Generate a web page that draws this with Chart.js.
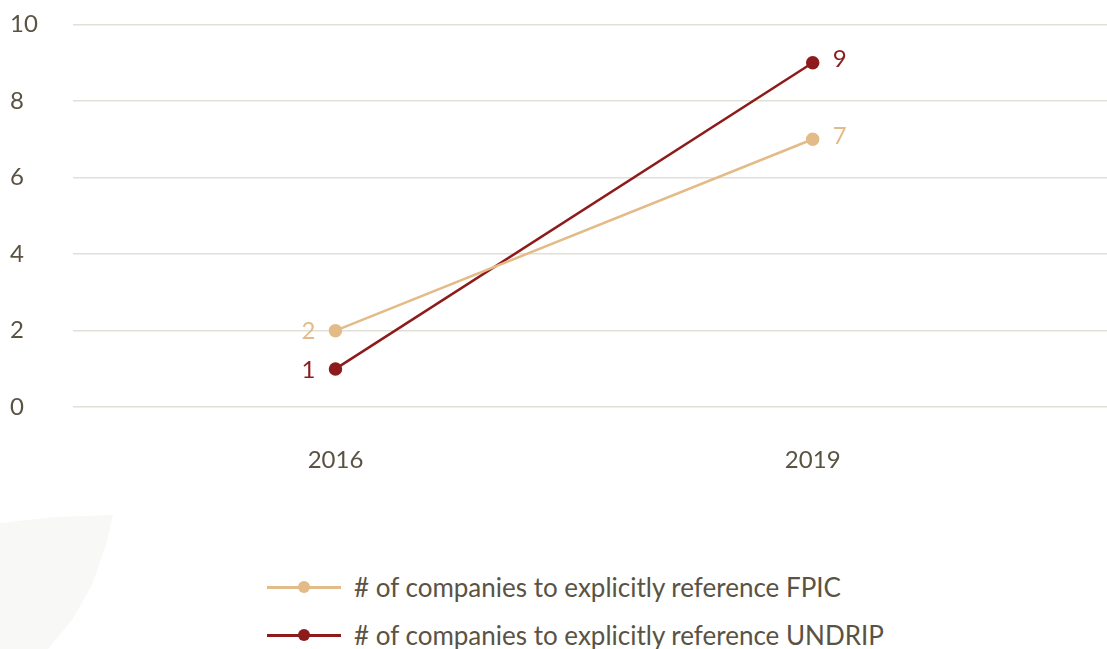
<!DOCTYPE html>
<html lang="en">
<head>
  <meta charset="UTF-8">
  <script src="https://cdn.jsdelivr.net/npm/chart.js"></script>
  <title>FPIC / UNDRIP</title>
  <style>
    body{
      margin: 0;
      background: #fff;
      font-family: Lato, "Open Sans", sans-serif;
    }
    #main{
      position: relative;
      width: 1107px;
      height: 649px;
      overflow: hidden;
    }
    #blob{
      position: absolute;
      left: 0; top: 0;
      width: 1107px; height: 649px;
      background: #f8f8f6;
      clip-path: polygon(0 523px, 55px 517px, 113px 515px, 106px 545px, 92px 585px, 72px 620px, 48px 649px, 0 649px);
    }
    #wrap{
      position: absolute;
      left: 0;
      top: 0;
      width: 1115px;
      height: 518px;
    }
    #legend{
      position: absolute;
      left: 267px;
      top: 569px;
      color: #5a5343;
      font-size: 26px;
    }
    .item{
      display: flex;
      align-items: center;
      height: 36px;
      margin-bottom: 12px;
    }
    .mark{
      position: relative;
      width: 74px;
      height: 12px;
      margin-right: 13px;
    }
    .mark .ln{
      position: absolute;
      left: 0; right: 0; top: 5px;
      height: 2.5px;
    }
    .mark .dt{
      position: absolute;
      left: 31px; top: 0;
      width: 12px; height: 12px;
      border-radius: 50%;
    }
  </style>
</head>
<body>
  <div id="main">
    <div id="blob"></div>
    <div id="wrap">
      <canvas id="myChart"></canvas>
    </div>
    <div id="legend"></div>
  </div>

  <script>
    // data
    var years = [2016, 2019];
    var fpic = [2, 7];
    var undrip = [1, 9];
    var yTicks = [0, 2, 4, 6, 8, 10];
    var seriesNames = ['# of companies to explicitly reference FPIC', '# of companies to explicitly reference UNDRIP'];
    var colors = ['#e3bb88', '#8e1b1b'];

    var textColor = '#5a5343';

    function pts(vals){
      return years.map(function(y, i){ return {x: y, y: vals[i]}; });
    }

    // value labels left of first point, right of last point
    var endLabels = {
      id: 'endLabels',
      afterDatasetsDraw: function(chart){
        var c = chart.ctx;
        c.save();
        c.font = '24px Lato';
        c.textBaseline = 'middle';
        chart.data.datasets.forEach(function(ds, i){
          var meta = chart.getDatasetMeta(i);
          var first = meta.data[0], last = meta.data[meta.data.length - 1];
          c.fillStyle = ds.borderColor;
          c.textAlign = 'right';
          c.fillText(ds.data[0].y, first.x - 20, first.y + 1);
          c.textAlign = 'left';
          c.fillText(ds.data[ds.data.length - 1].y, last.x + 20, last.y - 3);
        });
        c.restore();
      }
    };

    new Chart(document.getElementById('myChart'), {
      type: 'line',
      data: {
        datasets: [{
          label: seriesNames[0],
          data: pts(fpic),
          borderColor: colors[0],
          backgroundColor: colors[0],
          borderWidth: 2.5,
          pointRadius: 5.5,
          pointHoverRadius: 5.5
        }, {
          label: seriesNames[1],
          data: pts(undrip),
          borderColor: colors[1],
          backgroundColor: colors[1],
          borderWidth: 2.5,
          pointRadius: 5.5,
          pointHoverRadius: 5.5
        }]
      },
      options: {
        responsive: true,
        maintainAspectRatio: false,
        animation: false,
        layout: {
          padding: {left: 10, top: 6.5, right: 0, bottom: 12}
        },
        plugins: {
          legend: {display: false},
          tooltip: {enabled: false}
        },
        scales: {
          x: {
            type: 'linear',
            min: 2014.35,
            max: 2020.85,
            afterBuildTicks: function(s){
              s.ticks = years.map(function(y){ return {value: y}; });
            },
            grid: {display: false},
            border: {display: false},
            ticks: {
              color: textColor,
              font: {family: 'Lato', size: 24},
              padding: 31,
              callback: function(v){ return String(v); }
            }
          },
          y: {
            min: 0,
            max: 10,
            afterBuildTicks: function(s){
              s.ticks = yTicks.map(function(v){ return {value: v}; });
            },
            afterFit: function(s){ s.width = 63; },
            grid: {color: '#e2dfd8', lineWidth: 1.5, drawTicks: false},
            border: {display: false},
            ticks: {
              color: textColor,
              font: {family: 'Lato', size: 24},
              crossAlign: 'far',
              padding: 10
            }
          }
        }
      },
      plugins: [endLabels]
    });

    // legend
    var lg = document.getElementById('legend');
    seriesNames.forEach(function(name, i){
      var item = document.createElement('div');
      item.className = 'item';
      item.innerHTML = '<div class="mark"><div class="ln" style="background:' + colors[i] + '"></div>' +
        '<div class="dt" style="background:' + colors[i] + '"></div></div><span>' + name + '</span>';
      lg.appendChild(item);
    });
  </script>
</body>
</html>
